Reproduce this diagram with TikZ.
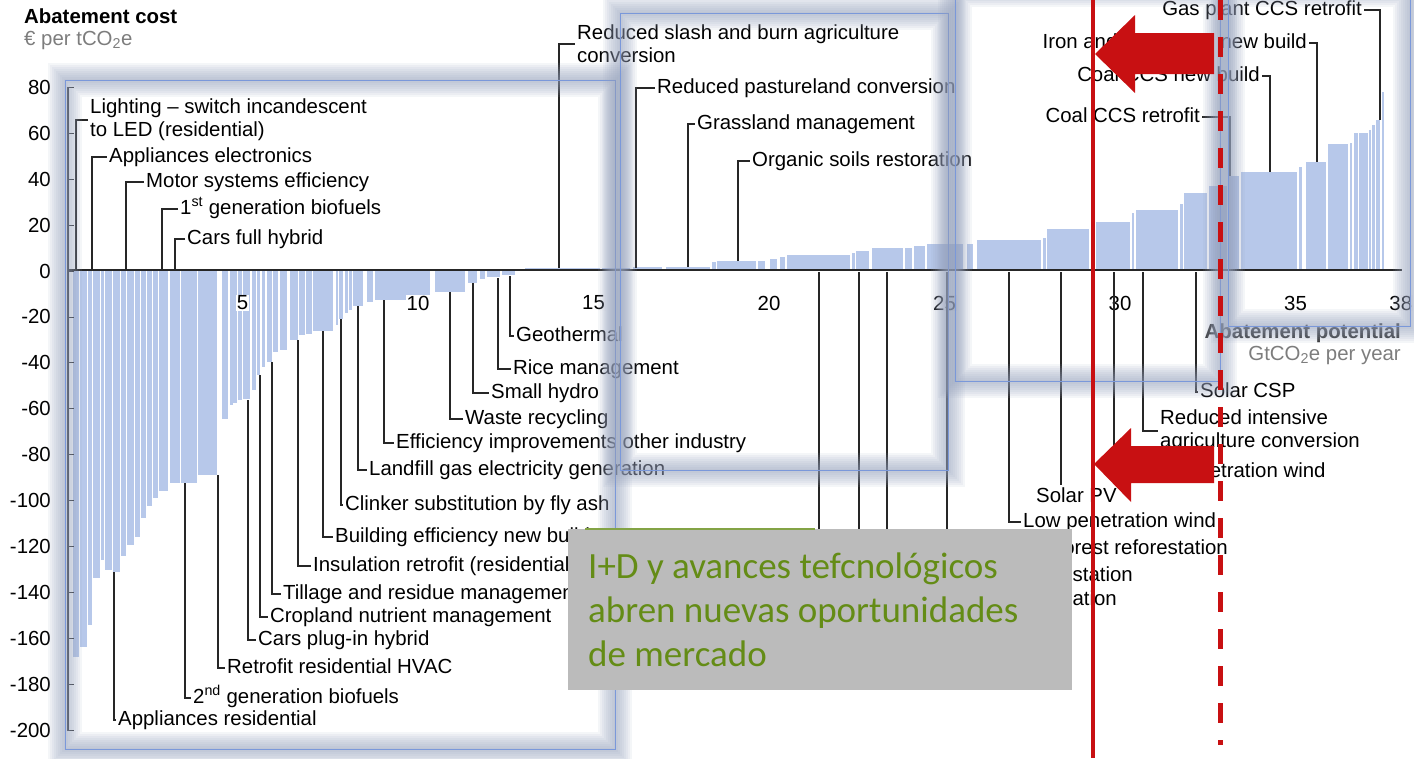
\documentclass[tikz,border=0pt]{standalone}
\usepackage{fontspec}
\setmainfont{Liberation Sans}
\newfontfamily\calibrifont{Carlito}
\usepackage{tikz}
\usetikzlibrary{positioning, calc}
\definecolor{barBlue}{RGB}{183, 200, 234}
\definecolor{frameBlue}{RGB}{122, 152, 218}
\definecolor{glowGray}{RGB}{150, 162, 188}
\definecolor{markRed}{RGB}{200, 16, 18}
\definecolor{boxGray}{RGB}{187, 187, 187}
\definecolor{textGreen}{RGB}{100, 140, 22}
\definecolor{unitGray}{RGB}{125, 125, 125}
\tikzset{
    lbl/.style={anchor=west, inner sep=0pt, font=\fontsize{20.4}{23}\selectfont,
        text height=14.7pt, text depth=4.2pt},
    lblr/.style={lbl, anchor=east},
    lbltwo/.style={anchor=west, inner sep=0pt, align=left, font=\fontsize{20.4}{23}\selectfont},
    leader/.style={draw=black!85, line width=1.1pt},
    axisline/.style={draw=black!85, line width=1.2pt},
    ticklbl/.style={inner sep=1pt, font=\fontsize{20.4}{23}\selectfont},
    greentxt/.style={anchor=base west, inner sep=0pt, text=textGreen,
        font=\calibrifont\fontsize{37}{44}\selectfont}
}
\begin{document}
\begin{tikzpicture}[x=1pt, y=-1pt]
            \useasboundingbox (0,0) rectangle (1414,758);
            
            % cost curve bars
            \foreach \xa/\xb/\yb in {73/79/657, 80/87/647, 88/92/625, 93/100/578, 101/104/560,
                105/112/570, 113/120/572, 121/126/556, 127/134/545, 135/140/537, 141/146/518,
                147/152/506, 153/158/498, 159/168/491, 170/180/483, 181/197/483, 198/217/475,
                222/228/419, 230/233/405, 233/237/403, 238/242/400, 243/250/399, 252/256/390,
                257/260/375, 262/265/367, 267/272/362, 273/278/352, 280/287/350, 290/298/340,
                299/305/335, 306/312/334, 313/333/331, 336/338/325, 339/343/319, 345/348/313,
                349/352/310, 353/363/306, 367/373/302, 375/430/300, 435/465/292, 468/477/283,
                480/485/279, 487/500/277, 502/515/275,
                525/600/268, 602/630/268, 633/662/267, 666/710/267, 712/716/262, 717/756/261,
                758/765/261, 770/777/259, 780/785/257, 787/850/255, 852/855/253, 856/869/251,
                872/903/248, 905/912/248, 914/925/246, 927/963/244, 967/973/244, 977/1041/240,
                1043/1046/238, 1047/1089/229, 1091/1094/226, 1096/1130/222, 1132/1134/213,
                1136/1178/210, 1180/1183/204, 1184/1207/193, 1209/1227/186, 1229/1239/176,
                1241/1297/172, 1299/1302/167, 1306/1326/162, 1328/1348/144, 1350/1352/143,
                1354/1358/133, 1359/1368/133, 1369/1371/130, 1372/1375/125, 1376/1380/120,
                1382/1384/92}
                \fill[barBlue] (\xa,270) rectangle (\xb,\yb);
            
            % axes
            \draw[axisline] (68,87) -- (68,731);
            \draw[axisline] (68,270) -- (1402,270);
            \foreach \v [count=\i] in {80,60,...,-200} {
                \draw[axisline, line width=0.8pt] (68,{271-2.297*\v}) -- ++(6,0);
                \node[ticklbl, anchor=east] (ytick\i) at (52,{271-2.297*\v}) {\v};
            }
            \foreach \u in {5,10,...,35,38}
                \node[ticklbl, fill=white] (xtick\u) at ({67+35.1*\u},303) {\u};
            
            \node[anchor=west, inner sep=0pt, font=\bfseries\fontsize{20.4}{24}\selectfont] (ytitle) at (24,16) {Abatement cost};
            \node[anchor=west, inner sep=0pt, text=unitGray, font=\fontsize{20.4}{24}\selectfont] (yunit) at (24,40) {€ per tCO\textsubscript{2}e};
            \node[anchor=east, inner sep=0pt, text=black!80, font=\bfseries\fontsize{20.4}{24}\selectfont] (xtitle) at (1401,333) {Abatement potential};
            \node[anchor=east, inner sep=0pt, text=unitGray, font=\fontsize{20.4}{24}\selectfont] (xunit) at (1401,355) {GtCO\textsubscript{2}e per year};
            
            % levers, leader from bar to label
            \foreach \nm/\tx/\ty/\lx/\ly/\txt in {
                appel/109/157/92/270/{Appliances electronics},
                motor/146/182/126/270/{Motor systems efficiency},
                bioa/180/209/162/270/{1\textsuperscript{st} generation biofuels},
                hybrid/187/239/175/270/{Cars full hybrid},
                apres/118/720/114/572/{Appliances residential},
                biob/193/698/185/483/{2\textsuperscript{nd} generation biofuels},
                hvac/227/668/218/475/{Retrofit residential HVAC},
                plugin/258/640/248/400/{Cars plug-in hybrid},
                crop/270/617/260/375/{Cropland nutrient management},
                till/283/594/272/362/{Tillage and residue management},
                insul/313/566/298/340/{Insulation retrofit (residential)},
                bldg/335/537/323/331/{Building efficiency new build},
                clink/345/505/341/319/{Clinker substitution by fly ash},
                landf/369/470/358/306/{Landfill gas electricity generation},
                effic/396/443/384/300/{Efficiency improvements other industry},
                waste/465/419/450/292/{Waste recycling},
                hydro/491/393/473/283/{Small hydro},
                rice/513/369/498/278/{Rice management},
                geo/516/336/510/276/{Geothermal},
                past/657/88/636/268/{Reduced pastureland conversion},
                grass/697/124/688/267/{Grassland management},
                soils/752/161/738/261/{Organic soils restoration},
                csp/1200/392/1196/272/{Solar CSP},
                hwind/1128/472/1114/272/{High penetration wind},
                lwind/1023/522/1009/272/{Low penetration wind}} {
                \node[lbl] (\nm) at (\tx,\ty) {\txt};
                \coordinate (\nm-bar) at (\lx,\ly);
                \draw[leader, shorten >=2pt] (\nm-bar) |- (\nm.west);
            }
            \foreach \nm/\tx/\ty/\lx/\txt in {
                dfor/1228/549/947/{Degraded forest reforestation},
                pastaf/1133/576/887/{Pastureland afforestation},
                dland/1117/600/859/{Degraded land restoration}} {
                \node[lblr] (\nm) at (\tx,\ty) {\txt};
                \coordinate (\nm-bar) at (\lx,272);
                \draw[leader, shorten >=2pt] (\nm-bar) |- (\nm.west);
            }
            \coordinate (nucl-bar) at (819,272);
            \coordinate (nucl-end) at (819,620);
            \draw[leader] (nucl-bar) -- (nucl-end);
            
            \node[lbl] (spv) at (1036,497) {Solar PV};
            \coordinate (spv-bar) at (1061,272);
            \draw[leader, shorten >=2pt] (spv-bar) -- (spv-bar |- spv.north);
            
            \foreach \nm/\tx/\ty/\lx/\ly/\txt in {
                light/90/120/76/270/{Lighting – switch incandescent\\to LED (residential)},
                slash/577/44/559/268/{Reduced slash and burn agriculture\\conversion},
                intens/1160/431/1143/272/{Reduced intensive\\agriculture conversion}} {
                \node[lbltwo] (\nm) at (\tx,\ty) {\txt};
                \coordinate (\nm-bar) at (\lx,\ly);
                \draw[leader, shorten >=2pt] (\nm-bar) |- (\nm.west);
            }
            \foreach \nm/\tx/\ty/\lx/\ly/\txt in {
                gas/1362/10/1380/120/{Gas plant CCS retrofit},
                iron/1307/43/1317/162/{Iron and steel CCS new build},
                coalnew/1260/76/1270/172/{Coal CCS new build},
                coalret/1200/117/1230/176/{Coal CCS retrofit}} {
                \node[lblr] (\nm) at (\tx,\ty) {\txt};
                \coordinate (\nm-bar) at (\lx,\ly);
                \draw[leader, shorten <=2pt] (\nm.east) -| (\nm-bar);
            }
            
            % highlight frames, soft glow
            \foreach \xa/\ya/\xb/\yb in {65/80/615/749, 620/13/948/470, 955/-10/1220/381, 1228/-10/1410/326} {
                \foreach \w in {34,30,...,2}
                    \draw[glowGray, line width=\w pt, opacity=0.1] (\xa,\ya) rectangle (\xb,\yb);
                \draw[frameBlue, line width=0.8pt] (\xa,\ya) rectangle (\xb,\yb);
            }
            
            % text box
            \fill[boxGray] (568,529) rectangle (1072,690);
            \draw[textGreen!80, line width=1.2pt] (585,529) -- (815,529);
            \node[greentxt] (rd1) at (588,578) {I+D y avances tefcnológicos};
            \node[greentxt] (rd2) at (588,622) {abren nuevas oportunidades};
            \node[greentxt] (rd3) at (588,666) {de mercado};
            
            % red marks
            \draw[markRed, line width=4.5pt] (1093,0) -- (1093,758);
            \draw[markRed, line width=5pt, dash pattern=on 20pt off 17pt] (1220,0) -- (1220,745);
            \fill[markRed] (1095,54) -- (1135,15) -- (1135,33) -- (1214,33) -- (1214,74)
                -- (1135,74) -- (1135,93) -- cycle;
            \fill[markRed] (1094,464) -- (1131,428) -- (1131,446) -- (1214,446) -- (1214,483)
                -- (1131,483) -- (1131,502) -- cycle;
        \end{tikzpicture}
\end{document}
